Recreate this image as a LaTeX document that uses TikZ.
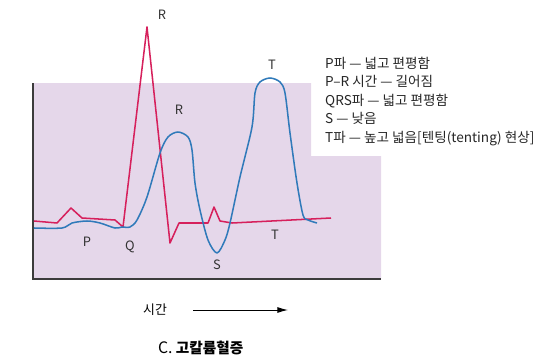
\documentclass[tikz,border=0pt]{standalone}
\usepackage{fontspec}
\setmainfont{Noto Sans CJK KR}
\usepackage{tikz}
\usetikzlibrary{arrows.meta,positioning}

\definecolor{lilac}{RGB}{229,215,234}
\definecolor{ecgred}{RGB}{214,32,92}
\definecolor{ecgblue}{RGB}{48,122,186}
\definecolor{axisgray}{RGB}{60,60,60}

\begin{document}
\begin{tikzpicture}[
    x=0.03cm, y=-0.03cm,
    wave/.style={line width=1.3pt, line join=round},
    wavelabel/.style={font=\fontsize{11}{12}\selectfont, text=black!80, inner sep=1pt},
    legend/.style={align=left, anchor=north west, inner sep=0pt, font=\fontsize{11.6}{15.7}\selectfont, text=black!85},
    timearrow/.style={-{Latex[length=9pt,width=5pt]}, line width=0.8pt, shorten <=19pt}
]
    \useasboundingbox (0,0) rectangle (539,363);

    \fill[lilac] (33,83) -- (311,83) -- (311,156) -- (381,156) -- (381,279) -- (33,279) -- cycle;
    \draw[axisgray, line width=1.6pt] (33,83) -- (33,279) -- (381,279);

    \draw[wave, ecgred] plot coordinates {(34,221) (57,223) (71,208) (82,218) (115,220) (123,227) (147,27)
        (170,243) (179,223) (208,223) (214,207) (220,221) (232,223) (331,218)};
    \draw[wave, ecgblue] plot[smooth, tension=0.5] coordinates {(34,228) (62,228) (72,223) (87,221) (100,223)
        (115,228) (122,227) (130,227) (137,220) (147,197) (160,153) (168,137) (178,132) (188,137) (192,150)
        (195,183) (200,210) (208,240) (217,253) (225,240) (230,223) (240,177) (252,127) (255,93) (260,82)
        (270,78) (280,82) (285,93) (290,133) (297,183) (303,215) (308,220) (317,223)};

    \node[wavelabel] (rtop) at (162,15) {R};
    \node[wavelabel] (rlow) at (179,110) {R};
    \node[wavelabel] (ttop) at (272,65) {T};
    \node[wavelabel] (tlow) at (275,235) {T};
    \node[wavelabel] (p) at (87,242) {P};
    \node[wavelabel] (q) at (130,247) {Q};
    \node[wavelabel] (s) at (217,265) {S};

    \node[legend] (notes) at (325,57) {P파 — 넓고 편평함\\P–R 시간 — 길어짐\\QRS파 — 넓고 편평함\\S — 낮음\\T파 — 높고 넓음[텐팅(tenting) 현상]};

    \node[font=\fontsize{11}{12}\selectfont] (time) at (155,310) {시간};
    \coordinate (tend) at (288,310);
    \draw[timearrow] (time) -- (tend);

    \node[font=\fontsize{12.5}{14}\selectfont, anchor=west] (caption) at (154,348) {{\fontsize{13.5}{14}\selectfont C.} \textbf{고칼륨혈증}};
\end{tikzpicture}
\end{document}
